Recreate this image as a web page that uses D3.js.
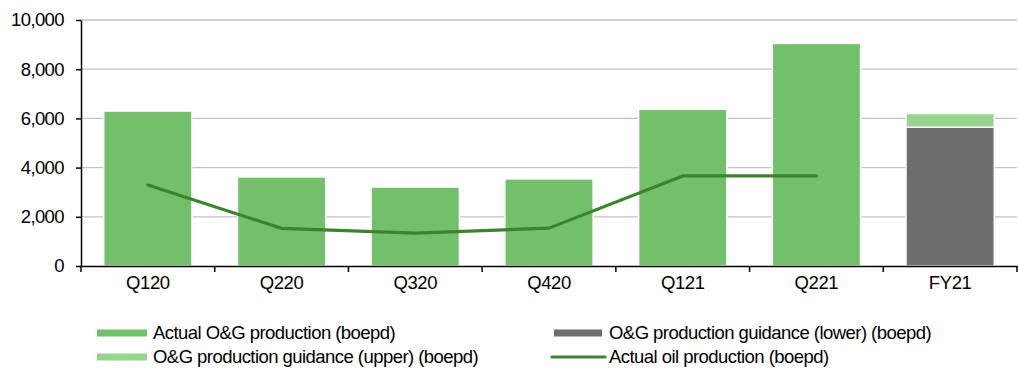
<!DOCTYPE html>
<html><head><meta charset="utf-8">
<script src="https://cdn.jsdelivr.net/npm/d3@7"></script>
<style>body{margin:0;background:#fff}svg{display:block;font-family:"Liberation Sans",Arial,sans-serif}</style>
</head><body><svg id="c" width="1018" height="372"></svg>
<script>
const categories = ["Q120","Q220","Q320","Q420","Q121","Q221","FY21"];
const actualOG = [6300,3620,3210,3540,6370,9050,null];
const guidanceLower = [null,null,null,null,null,null,5640];
const guidanceUpper = [null,null,null,null,null,null,560];
const actualOil = [3290,1530,1340,1540,3660,3660,null];
const yTicks = [0,2000,4000,6000,8000,10000];
const legendLabels = ["Actual O&G production (boepd)","O&G production guidance (lower) (boepd)","O&G production guidance (upper) (boepd)","Actual oil production (boepd)"];

const C = {og:"#73c06b", lower:"#6d6d6d", upper:"#98d38f", oil:"#3c822f", grid:"#c3c3c3"};
const svg = d3.select("#c");
const L=81, R=1017, T=20, B=266;
const x = d3.scaleBand().domain(categories).range([L,R]).paddingInner(0.34).paddingOuter(0.17);
const y = d3.scaleLinear().domain([0,10000]).range([B,T]);

// grid
svg.append("g").selectAll("line").data(yTicks.filter(d=>d>0)).join("line")
  .attr("x1",L).attr("x2",R).attr("y1",d=>y(d)).attr("y2",d=>y(d))
  .attr("stroke",C.grid).attr("stroke-width",1.3);

// bars
const bars = svg.append("g");
categories.forEach((c,i)=>{
  if(actualOG[i]!=null) bars.append("rect").attr("x",x(c)).attr("width",x.bandwidth())
    .attr("y",y(actualOG[i])).attr("height",y(0)-y(actualOG[i])).attr("fill",C.og).attr("stroke","#fff").attr("stroke-width",1.5);
  if(guidanceLower[i]!=null){
    bars.append("rect").attr("x",x(c)).attr("width",x.bandwidth())
      .attr("y",y(guidanceLower[i])).attr("height",y(0)-y(guidanceLower[i])).attr("fill",C.lower).attr("stroke","#fff").attr("stroke-width",1.5);
    const top = guidanceLower[i]+guidanceUpper[i];
    bars.append("rect").attr("x",x(c)).attr("width",x.bandwidth())
      .attr("y",y(top)).attr("height",y(guidanceLower[i])-y(top)).attr("fill",C.upper).attr("stroke","#fff").attr("stroke-width",1.5);
  }
});

// line
const pts = categories.map((c,i)=>[c,actualOil[i]]).filter(d=>d[1]!=null);
svg.append("path").datum(pts)
  .attr("d",d3.line().x(d=>x(d[0])+x.bandwidth()/2).y(d=>y(d[1])))
  .attr("fill","none").attr("stroke",C.oil).attr("stroke-width",3.2).attr("stroke-linecap","round").attr("stroke-linejoin","round");

// axes
const ya = svg.append("g").attr("transform",`translate(${L},0)`)
  .call(d3.axisLeft(y).tickValues(yTicks).tickFormat(d3.format(",")).tickSize(5).tickSizeOuter(0));
ya.select(".domain").attr("stroke","#000").attr("stroke-width",1.5);
ya.selectAll(".tick line").attr("stroke","#000").attr("stroke-width",1.5);
ya.selectAll("text").attr("font-size",18.5).attr("fill","#000").attr("x",-17).attr("letter-spacing","-0.6px");
ya.attr("font-family",null);

const xa = svg.append("g").attr("transform",`translate(0,${B})`)
  .call(d3.axisBottom(x).tickSize(0).tickPadding(10));
xa.select(".domain").attr("stroke","#000").attr("stroke-width",1.5);
xa.selectAll("text").attr("font-size",18.5).attr("fill","#000").attr("letter-spacing","-0.4px");
xa.attr("font-family",null);
// boundary ticks
const bounds = categories.map(c=>x(c)-x.step()*x.paddingInner()/2).concat([R]);
bounds[0]=L;
svg.append("g").selectAll("line").data(bounds).join("line")
  .attr("x1",d=>d).attr("x2",d=>d).attr("y1",B).attr("y2",B+6).attr("stroke","#000").attr("stroke-width",1.5);

// legend
const leg = [
  {lab:legendLabels[0],col:C.og,x:97,y:333,type:"bar"},
  {lab:legendLabels[1],col:C.lower,x:554,y:333,type:"bar"},
  {lab:legendLabels[2],col:C.upper,x:97,y:357,type:"bar"},
  {lab:legendLabels[3],col:C.oil,x:551,y:357,type:"line"}
];
const lg = svg.append("g");
leg.forEach(d=>{
  if(d.type==="bar") lg.append("rect").attr("x",d.x).attr("y",d.y-3.5).attr("width",d.x===97?50:48).attr("height",7).attr("fill",d.col);
  else lg.append("line").attr("x1",d.x+1).attr("x2",d.x+54).attr("y1",d.y).attr("y2",d.y).attr("stroke",d.col).attr("stroke-width",3.2).attr("stroke-linecap","round");
  lg.append("text").attr("x",d.x===97?153:609).attr("y",d.y).attr("dy","0.35em").attr("font-size",18.5).attr("letter-spacing","-0.55px").text(d.lab);
});
</script></body></html>
